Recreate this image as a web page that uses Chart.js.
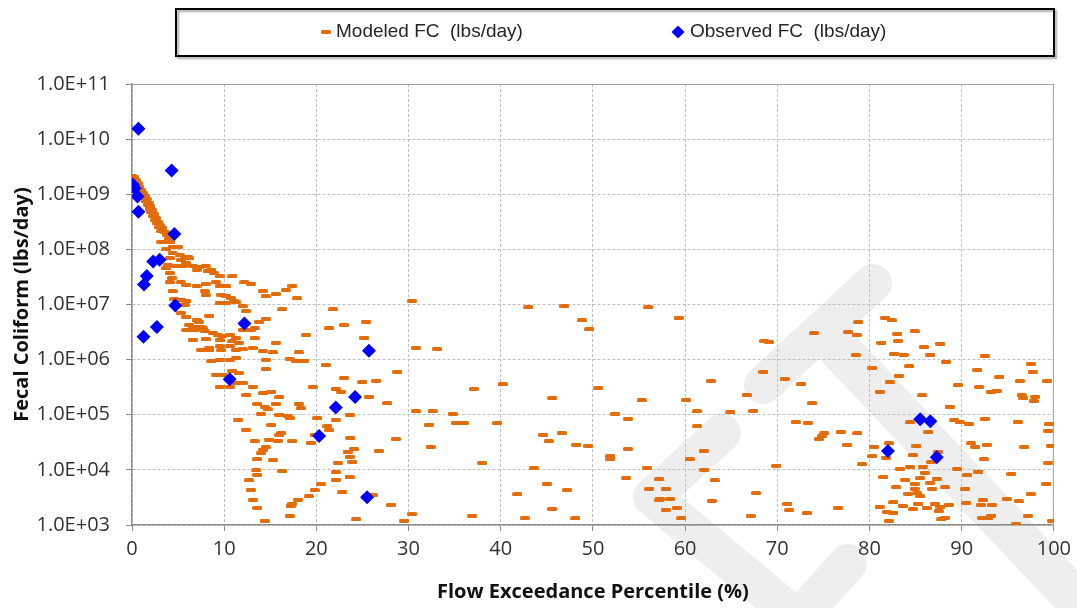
<!DOCTYPE html>
<html>
<head>
<meta charset="utf-8">
<title>Fecal Coliform - Flow Exceedance</title>
<script src="https://cdn.jsdelivr.net/npm/chart.js@4.4.1/dist/chart.umd.min.js"></script>
<style>
  html, body { margin: 0; padding: 0; background: #fff; }
  #wrap { width: 1077px; height: 608px; }
</style>
</head>
<body>
<div id="wrap"><canvas id="fcChart" width="1077" height="608"></canvas></div>
<script>
const seriesNames = ['Modeled FC  (lbs/day)', 'Observed FC  (lbs/day)'];
const xTicks = [0, 10, 20, 30, 40, 50, 60, 70, 80, 90, 100];
const yTicks = [1e3, 1e4, 1e5, 1e6, 1e7, 1e8, 1e9, 1e10, 1e11];
const yTickLabels = ['1.0E+03', '1.0E+04', '1.0E+05', '1.0E+06', '1.0E+07', '1.0E+08', '1.0E+09', '1.0E+10', '1.0E+11'];

// [flow exceedance %, load lbs/day]
const modeledPoints = [
  [0.0,2.14e9],[0.2,2.04e9],[0.1,1.91e9],[0.4,1.82e9],[0.3,1.66e9],[0.6,1.58e9],[0.5,1.48e9],[0.8,1.38e9],[0.7,1.26e9],[1.0,1.20e9],
  [0.9,1.10e9],[1.2,1.05e9],[1.1,9.55e8],[1.4,9.12e8],[1.3,8.51e8],[1.6,8.13e8],[1.5,7.41e8],[1.8,7.08e8],[1.7,6.46e8],[2.0,6.03e8],
  [1.9,5.50e8],[2.2,5.13e8],[2.1,4.68e8],[2.4,4.37e8],[2.3,3.98e8],[2.6,3.72e8],[2.5,3.39e8],[2.8,3.16e8],[2.7,2.95e8],[3.0,2.75e8],
  [2.9,2.51e8],[3.3,2.40e8],[3.2,2.14e8],[3.6,2.04e8],[3.8,1.86e8],[4.2,1.74e8],[4.0,1.58e8],
  [3.2,1.38e8],[4.1,1.35e8],[3.7,1.00e8],[4.4,8.51e7],[4.1,6.92e7],[3.9,5.25e7],[4.8,4.90e7],[6.1,7.24e7],
  [4.4,1.12e8],[5.0,1.10e8],[5.2,7.76e7],[5.7,7.41e7],[6.2,6.92e7],[5.3,6.46e7],[5.9,5.62e7],[5.5,5.01e7],[6.6,5.01e7],[7.3,4.79e7],
  [7.0,4.27e7],[8.0,4.90e7],[8.2,3.98e7],[8.9,3.72e7],[8.6,4.27e7],[9.5,3.24e7],[10.9,3.24e7],[3.7,4.57e7],[4.1,3.72e7],[4.3,3.02e7],
  [4.1,2.51e7],[5.3,2.51e7],[5.9,2.29e7],[7.0,2.19e7],[8.0,2.40e7],[9.1,2.51e7],[9.5,2.19e7],[10.2,2.14e7],[12.2,2.51e7],[12.9,2.40e7],
  [14.2,1.74e7],[14.5,1.41e7],[4.4,1.74e7],[7.9,1.74e7],[8.0,1.51e7],[9.7,1.51e7],[10.2,1.45e7],[10.7,1.32e7],[11.1,1.15e7],[9.5,1.07e7],
  [10.2,1.07e7],[11.3,1.10e7],[4.6,1.26e7],[5.3,1.23e7],[5.9,1.17e7],[5.7,1.00e7],[12.0,9.33e6],[12.4,7.59e6],[5.3,7.08e6],[5.9,6.03e6],
  [8.4,6.31e6],[7.0,5.25e6],[7.3,4.79e6],[6.2,4.27e6],[6.6,3.98e6],[7.5,3.89e6],[5.9,3.47e6],[6.8,3.47e6],[7.7,3.72e6],[7.9,3.24e6],
  [8.8,3.02e6],[9.3,2.82e6],[9.8,2.69e6],[10.6,2.82e6],[11.3,2.45e6],[12.0,3.47e6],[12.9,3.47e6],[13.3,3.72e6],[13.8,4.90e6],[14.5,5.50e6],
  [6.6,2.29e6],[8.0,2.34e6],[9.5,2.29e6],[10.9,2.14e6],[11.6,2.04e6],[13.3,2.45e6],[8.4,1.62e6],[9.5,1.74e6],[10.6,1.78e6],[7.5,1.51e6],
  [8.4,1.48e6],[9.7,1.48e6],[11.3,1.51e6],[12.0,1.55e6],[13.1,1.62e6],[14.2,1.41e6],[8.6,9.33e5],[9.5,1.00e6],[10.6,1.00e6],[11.3,1.07e6],
  [14.5,1.00e6],[9.1,5.37e5],[9.8,5.37e5],[10.9,6.31e5],[11.6,5.75e5],[9.5,3.24e5],[10.6,3.24e5],[11.3,3.80e5],[12.0,3.80e5],[13.1,3.24e5],
  [12.4,2.29e5],[14.2,2.45e5],[14.5,6.76e5],
  [15.6,1.55e7],[16.7,1.82e7],[17.4,2.19e7],[17.9,1.29e7],[16.3,8.13e6],[21.8,8.13e6],[25.4,4.90e6],[23.0,4.27e6],[21.4,3.72e6],[18.9,2.82e6],
  [25.2,2.51e6],[15.6,2.04e6],[15.3,1.35e6],[18.1,1.35e6],[17.1,1.02e6],[17.8,9.33e5],[18.7,9.55e5],[15.1,2.63e5],[16.0,2.09e5],[13.6,1.58e5],
  [14.4,1.41e5],[14.7,1.26e5],[15.6,1.58e5],[18.1,1.58e5],[18.3,1.32e5],[14.0,1.05e5],[16.0,1.00e5],[16.9,9.33e4],[17.1,8.71e4],[11.5,8.13e4],
  [15.1,6.46e4],[12.4,5.37e4],[16.2,4.68e4],[16.0,4.37e4],[14.9,3.55e4],[13.3,3.31e4],[15.8,3.39e4],[17.4,3.31e4],[14.5,2.57e4],[14.2,2.34e4],
  [14.0,2.04e4],[13.6,1.55e4],[15.3,1.48e4],[13.5,9.77e3],[13.6,8.13e3],[16.3,9.55e3],[12.7,6.46e3],[12.9,4.37e3],[13.1,2.88e3],[13.6,2.04e3],
  [14.4,1.20e3],[17.4,2.45e3],[17.2,2.24e3],[18.0,2.88e3],[19.2,3.31e3],[19.8,4.27e3],[20.5,5.50e3],[17.1,1.45e3],[21.0,7.94e5],[19.6,3.16e5],
  [22.1,2.95e5],[22.7,2.63e5],[23.0,4.68e5],[25.0,3.89e5],[26.5,4.17e5],[25.7,2.14e5],[22.1,8.13e4],[21.2,6.17e4],[21.4,5.37e4],[23.6,1.00e5],
  [20.1,8.71e4],[19.4,3.09e4],[19.8,4.37e4],[23.7,3.80e4],[24.1,2.40e4],[23.4,2.14e4],[23.6,1.74e4],[23.9,1.41e4],[22.3,1.35e4],[22.1,9.12e3],
  [22.1,6.61e3],[23.6,7.41e3],[22.8,3.89e3],[24.3,1.26e3],[25.5,3.31e3],[26.1,3.55e3],[28.1,2.34e3],[29.5,1.20e3],[30.4,1.58e3],[36.9,1.45e3],
  [28.6,3.63e4],[26.8,2.19e4],[32.4,2.63e4],[38.0,1.35e4],[32.2,6.61e4],[30.8,1.15e5],[32.6,1.15e5],[34.8,1.05e5],[35.1,7.08e4],[36.0,7.08e4],
  [39.6,7.08e4],[27.7,1.62e5],[28.8,6.03e5],[37.1,2.95e5],[30.8,1.62e6],[33.1,1.55e6],[30.4,1.17e7],
  [43.0,8.91e6],[46.9,9.33e6],[48.8,5.13e6],[49.6,3.55e6],[56.0,8.91e6],[59.3,5.75e6],[68.6,2.19e6],[69.1,2.09e6],[40.2,3.63e5],[45.6,2.00e5],
  [50.6,3.02e5],[55.3,1.82e5],[60.1,1.86e5],[62.8,4.07e5],[68.5,6.03e5],[66.7,2.29e5],[61.3,1.15e5],[64.9,1.10e5],[67.4,1.17e5],[52.4,1.05e5],
  [53.8,8.51e4],[44.6,4.27e4],[46.6,4.68e4],[45.2,3.31e4],[48.2,2.88e4],[49.5,2.75e4],[51.9,1.78e4],[51.9,1.55e4],[53.8,2.40e4],[61.3,6.17e4],
  [62.0,2.24e4],[60.5,1.55e4],[62.1,1.00e4],[69.9,1.20e4],[43.6,1.07e4],[55.9,1.10e4],[53.6,7.08e3],[57.2,6.76e3],[45.0,5.62e3],[47.2,4.37e3],
  [41.8,3.63e3],[56.1,4.57e3],[57.9,4.57e3],[63.2,6.46e3],[67.7,3.80e3],[57.3,3.02e3],[58.4,2.95e3],[57.2,2.82e3],[62.9,2.75e3],[45.6,1.95e3],
  [57.9,1.91e3],[59.1,2.04e3],[42.6,1.32e3],[48.1,1.32e3],[59.6,1.32e3],[67.1,1.45e3],
  [81.7,5.75e6],[82.4,5.13e6],[78.8,4.79e6],[74.0,3.02e6],[77.7,3.16e6],[78.6,2.82e6],[83.0,2.95e6],[84.9,3.24e6],[81.3,2.04e6],[83.1,2.19e6],
  [87.7,1.95e6],[85.9,1.70e6],[82.7,1.29e6],[83.7,1.23e6],[78.5,1.23e6],[86.6,1.23e6],[92.5,1.17e6],[88.3,9.12e5],[97.5,8.32e5],[80.3,7.08e5],
  [84.3,7.59e5],[91.7,6.61e5],[97.7,6.03e5],[94.1,4.90e5],[70.8,4.47e5],[72.6,3.63e5],[82.2,3.89e5],[83.2,5.13e5],[89.6,3.47e5],[91.9,3.16e5],
  [96.3,4.07e5],[99.3,4.07e5],[93.2,2.63e5],[93.8,2.75e5],[81.1,2.63e5],[85.7,2.24e5],[96.5,2.24e5],[98.0,2.14e5],[96.7,2.00e5],[97.8,1.78e5],
  [73.8,1.62e5],[88.7,1.41e5],[92.5,8.51e4],[89.2,7.94e4],[89.8,7.24e4],[90.8,6.76e4],[96.1,7.41e4],[99.5,6.76e4],[84.4,7.24e4],[72.0,7.41e4],
  [73.3,7.08e4],[86.4,4.90e4],[99.4,5.13e4],[75.1,4.57e4],[74.8,4.07e4],[74.5,3.63e4],[76.9,4.90e4],[78.7,4.57e4],[77.6,2.88e4],[82.1,3.02e4],
  [80.5,2.63e4],[85.1,2.75e4],[91.0,3.02e4],[91.5,2.63e4],[92.7,2.88e4],[96.8,2.63e4],[99.7,2.75e4],[84.7,1.86e4],[80.3,1.78e4],[81.8,1.66e4],
  [86.7,1.38e4],[87.4,2.14e4],[92.4,1.55e4],[99.4,1.35e4],[79.2,1.26e4],[84.4,1.15e4],[83.3,1.05e4],[85.8,1.15e4],[89.5,1.05e4],[90.6,8.13e3],
  [91.8,9.33e3],[95.4,8.51e3],[81.5,7.41e3],[83.9,6.61e3],[85.5,7.08e3],[86.0,8.91e3],[87.3,6.92e3],[84.9,5.62e3],[86.6,5.89e3],[99.2,5.62e3],
  [82.9,4.79e3],[84.9,4.57e3],[86.8,4.57e3],[88.2,4.79e3],[90.4,4.57e3],[84.2,3.72e3],[85.2,3.80e3],[85.5,3.31e3],[97.5,3.63e3],[94.9,3.02e3],
  [96.2,2.69e3],[71.1,2.45e3],[71.3,1.86e3],[73.2,1.66e3],[76.6,2.04e3],[81.1,2.14e3],[82.6,2.57e3],[83.6,2.24e3],[84.7,1.95e3],[85.3,2.45e3],
  [86.2,2.04e3],[87.1,2.45e3],[87.7,2.14e3],[88.6,2.34e3],[90.5,2.51e3],[92.1,2.34e3],[93.3,2.34e3],[92.3,2.82e3],[81.9,1.74e3],[82.6,1.66e3],
  [87.5,1.78e3],[97.2,1.45e3],[92.2,1.35e3],[92.9,1.35e3],[93.2,1.48e3],[87.8,1.26e3],[88.2,1.35e3],[82.1,1.20e3],[95.9,1.05e3],[99.8,1.20e3]
];

const observedPoints = [
  [0.7,1.55e10],[4.3,2.7e9],[0.1,1.48e9],[0.3,1.29e9],[0.6,9.1e8],[0.7,4.8e8],[4.6,1.9e8],[2.3,6.0e7],[3.0,6.5e7],[1.6,3.3e7],
  [1.3,2.3e7],[4.7,9.6e6],[2.7,3.9e6],[1.25,2.6e6],[12.2,4.5e6],[10.6,4.4e5],[25.7,1.45e6],[24.2,2.1e5],[22.1,1.35e5],[20.3,4.1e4],
  [25.5,3.2e3],[82.0,2.2e4],[85.5,8.3e4],[86.6,7.6e4],[87.3,1.7e4]
];

const ORANGE = '#e36c09';
const BLUE = '#0000ff';

function makeDash(color) {
  const c = document.createElement('canvas');
  c.width = 10; c.height = 4;
  const g = c.getContext('2d');
  g.fillStyle = color;
  g.beginPath();
  g.roundRect(0, 0, 10, 4, 1.5);
  g.fill();
  return c;
}
const dash = makeDash(ORANGE);

// light grey logo shape behind the plot
const watermark = {
  id: 'watermark',
  beforeDraw(chart) {
    const ctx = chart.ctx;
    const bands = [
      [38, [[763, 385], [873, 283]]],
      [42, [[840, 350], [1120, 646]]],
      [38, [[722, 433], [652, 497], [800, 620]]],
      [38, [[848, 563], [770, 650]]]
    ];
    ctx.save();
    ctx.strokeStyle = '#eeeeee';
    ctx.lineCap = 'round';
    ctx.lineJoin = 'round';
    bands.forEach(([w, pts]) => {
      ctx.lineWidth = w;
      ctx.beginPath();
      pts.forEach(([x, y], i) => i ? ctx.lineTo(x, y) : ctx.moveTo(x, y));
      ctx.stroke();
    });
    ctx.restore();
  }
};

const plotFrame = {
  id: 'plotFrame',
  beforeDatasetsDraw(chart) {
    const {ctx, chartArea: a} = chart;
    ctx.save();
    ctx.strokeStyle = '#a6a6a6';
    ctx.lineWidth = 1;
    ctx.beginPath();
    ctx.moveTo(a.left, a.top + 0.5);
    ctx.lineTo(a.right - 0.5, a.top + 0.5);
    ctx.lineTo(a.right - 0.5, a.bottom);
    ctx.stroke();
    ctx.restore();
  }
};

const boxedLegend = {
  id: 'boxedLegend',
  afterDraw(chart) {
    const ctx = chart.ctx;
    const sets = chart.data.datasets;
    ctx.save();
    ctx.shadowColor = 'rgba(0,0,0,0.35)';
    ctx.shadowOffsetX = 2;
    ctx.shadowOffsetY = 2;
    ctx.shadowBlur = 2;
    ctx.strokeStyle = '#000';
    ctx.lineWidth = 2;
    ctx.strokeRect(176, 9, 878, 47);
    ctx.shadowColor = 'transparent';

    const cy = 32;
    ctx.drawImage(dash, 326 - dash.width / 2, cy - dash.height / 2);
    ctx.fillStyle = BLUE;
    ctx.beginPath();
    ctx.moveTo(678, cy - 6.5);
    ctx.lineTo(684.5, cy);
    ctx.lineTo(678, cy + 6.5);
    ctx.lineTo(671.5, cy);
    ctx.closePath();
    ctx.fill();

    ctx.font = '19px "Liberation Sans", Arial, sans-serif';
    ctx.fillStyle = '#262626';
    ctx.textBaseline = 'middle';
    ctx.textAlign = 'left';
    ctx.fillText(sets[0].label, 336, cy);
    ctx.fillText(sets[1].label, 690, cy);
    ctx.restore();
  }
};

Chart.defaults.font.family = '"Open Sans", sans-serif';
Chart.defaults.color = '#333';

new Chart(document.getElementById('fcChart'), {
  type: 'scatter',
  data: {
    datasets: [{
      label: seriesNames[0],
      data: modeledPoints.map(([x, y]) => ({x, y})),
      pointStyle: dash,
      pointRadius: 5,
      order: 1
    }, {
      label: seriesNames[1],
      data: observedPoints.map(([x, y]) => ({x, y})),
      pointStyle: 'rectRot',
      pointRadius: 7,
      pointBorderWidth: 0,
      backgroundColor: BLUE,
      borderColor: BLUE,
      order: 0
    }]
  },
  options: {
    responsive: false,
    animation: false,
    devicePixelRatio: 1,
    layout: { padding: { top: 84, right: 22, left: 0, bottom: 0 } },
    plugins: {
      legend: { display: false },
      tooltip: { enabled: false }
    },
    scales: {
      x: {
        type: 'linear',
        min: 0,
        max: 100,
        afterBuildTicks: s => { s.ticks = xTicks.map(v => ({value: v})); },
        afterFit: s => { s.height = 83; },
        ticks: { font: { size: 20 }, padding: 6, color: '#333' },
        grid: { color: '#bfbfbf', tickColor: '#8c8c8c', tickLength: 6 },
        border: { color: '#8c8c8c', width: 1.5, dash: [3, 2] },
        title: {
          display: true,
          text: 'Flow Exceedance Percentile (%)',
          font: { size: 20, weight: 'bold' },
          color: '#111',
          padding: { top: 0, bottom: 4 }
        }
      },
      y: {
        type: 'logarithmic',
        min: 1e3,
        max: 1e11,
        afterBuildTicks: s => { s.ticks = yTicks.map(v => ({value: v})); },
        afterFit: s => { s.width = 132; },
        ticks: {
          autoSkip: false,
          font: { size: 20 },
          padding: 16,
          color: '#333',
          callback: (v, i) => yTickLabels[i]
        },
        grid: { color: '#bfbfbf', tickColor: '#8c8c8c', tickLength: 6 },
        border: { color: '#8c8c8c', width: 1.5, dash: [3, 2] },
        title: {
          display: true,
          text: 'Fecal Coliform (lbs/day)',
          font: { size: 20, weight: 'bold' },
          color: '#111',
          padding: { top: 10, bottom: 0 }
        }
      }
    }
  },
  plugins: [watermark, plotFrame, boxedLegend]
});
</script>
</body>
</html>
